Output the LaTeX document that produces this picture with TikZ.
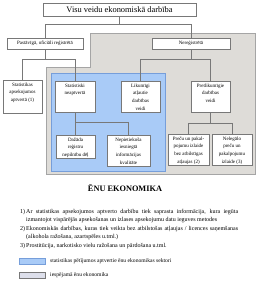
\documentclass[tikz,border=0pt]{standalone}
\usepackage{fontspec}
\setmainfont{Liberation Serif}
\definecolor{greyfill}{RGB}{222,220,216}
\definecolor{greyedge}{RGB}{165,165,165}
\definecolor{bluefill}{RGB}{169,203,247}
\definecolor{blueedge}{RGB}{118,158,218}
\definecolor{lavfill}{RGB}{221,223,235}
\definecolor{boxedge}{RGB}{120,120,120}
\newcommand\bxt[3]{\parbox[c][#2][t]{#1}{\centering\rule{0pt}{6pt}#3}}
\tikzset{
  bx/.style={draw=boxedge, fill=white, line width=0.5pt, inner sep=0pt,
    font=\fontsize{5}{7.7}\selectfont},
  hbx/.style={draw=boxedge, fill=white, line width=0.5pt, inner sep=0pt,
    font=\fontsize{5}{6}\selectfont, align=center},
  conn/.style={draw=boxedge, line width=0.5pt},
  region/.style={line width=1pt},
  notetxt/.style={inner sep=0pt, anchor=base west, font=\fontsize{6}{8.5}\selectfont},
  legtxt/.style={inner sep=0pt, anchor=west, font=\fontsize{5.6}{6.5}\selectfont},
}
\begin{document}
\begin{tikzpicture}[x=1pt,y=-1pt]
\useasboundingbox (0,0) rectangle (260,282);
% regions
\draw[region, fill=greyfill, draw=greyedge] (90,33) -- (255,33) -- (255,174) -- (46,174) -- (46,67) -- (90,67) -- cycle;
\draw[region, fill=bluefill, draw=blueedge] (51,73) rectangle (165,171);
% nodes
\node[hbx, minimum width=153pt, minimum height=13pt, font=\fontsize{8.4}{10}\selectfont] (top) at (119.5,9.5) {Visu veidu ekonomiskā darbība};
\node[hbx, minimum width=76pt, minimum height=11pt] (pas) at (45,43.5) {Pastāvīgā, oficiāli reģistrētā};
\node[hbx, minimum width=78pt, minimum height=11pt] (nereg) at (191,43.5) {Nereģistrētā};
\node[bx] (sa) at (22.5,96.5) {\bxt{39pt}{33pt}{Statistikas\\apsekojumos\\aptvertā (1)}};
\node[bx] (sn) at (75,96.5) {\bxt{40pt}{31pt}{Statistiski\\neaptvertā}};
\node[bx] (lik) at (140.5,96.5) {\bxt{39pt}{31pt}{Likumīgi\\atļautie\\darbības\\veidi}};
\node[bx] (pret) at (210.5,96.5) {\bxt{39pt}{31pt}{Pretlikumīgie\\darbības\\veidi}};
\node[bx] (daz) at (75.5,146.5) {\bxt{39pt}{23pt}{Dažāda\\reģistru\\nepilnību dēļ}};
\node[bx] (nep) at (128.5,150.5) {\bxt{43pt}{31pt}{Nepietiekoša\\iesniegtā\\informācijas\\kvalitāte}};
\node[bx] (pre) at (188.5,149.5) {\bxt{41pt}{31pt}{Preču un pakal-\\pojumu izlaide\\bez atbilstīgas\\atļaujas (2)}};
\node[bx] (nel) at (232,149.5) {\bxt{40pt}{31pt}{Nelegālo\\preču un\\pakalpojumu\\izlaide (3)}};
% connectors
\draw[conn] (top.south) -- ++(0,8);
\draw[conn] (pas.north) -- ++(0,-14) -| (nereg.north);
\draw[conn] (pas.south) -- ++(0,10);
\draw[conn] (sa.north) -- ++(0,-21) -| (sn.north);
\draw[conn] (nereg.south) -- ++(0,10);
\draw[conn] (lik.north) -- ++(0,-22) -| (pret.north);
\draw[conn] (sn.south) -- ++(0,10);
\draw[conn] (daz.north) -- ++(0,-13) -| (nep.north);
\draw[conn] (pret.south) -- ++(0,11);
\draw[conn] (pre.north) -- ++(0,-11) -| (nel.north);
% title
\node[inner sep=0pt, font=\fontsize{8.3}{10}\bfseries] (title) at (125,188) {ĒNU EKONOMIKA};
% notes
\node[notetxt] (n1) at (20,213) {1)};
\node[notetxt] (t1a) at (26,213) {\makebox[212pt][s]{Ar statistikas apsekojumos aptverto darbību tiek saprasta informācija, kura iegūta}};
\node[notetxt] (t1b) at (26,221.5) {izmantojot vispārējās apsekošanas un izlases apsekojumu datu ieguves metodes};
\node[notetxt] (n2) at (20,230) {2)};
\node[notetxt] (t2a) at (26,230) {\makebox[212pt][s]{Ekonomiskās darbības, kuras tiek veikta bez atbilstošas atļaujas / licences saņemšanas}};
\node[notetxt] (t2b) at (26,238.5) {(alkohola ražošana, azartspēles u.tml.)};
\node[notetxt] (n3) at (20,247) {3)};
\node[notetxt] (t3a) at (26,247) {Prostitūcija, narkotisko vielu ražošana un pārdošana u.tml.};
% legend
\draw[line width=0.5pt, draw=blueedge, fill=bluefill] (19,258) rectangle (45,264);
\node[legtxt] (l1) at (50,261) {statistikas pētījumos aptvertie ēnu ekonomikas sektori};
\draw[line width=0.5pt, draw=boxedge, fill=lavfill] (19,272) rectangle (45,278);
\node[legtxt] (l2) at (50,275) {iespējamā ēnu ekonomika};
\end{tikzpicture}
\end{document}
